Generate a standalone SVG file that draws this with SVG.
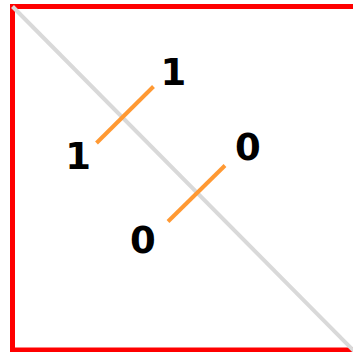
<svg xmlns="http://www.w3.org/2000/svg" width="353" height="352" viewBox="0 0 353 352">
<style>
.lbl{font-family:"DejaVu Sans",sans-serif;font-weight:bold;font-size:37px;fill:#000;text-anchor:middle}
.seg{stroke:#ff9933;stroke-width:4;stroke-linecap:butt;fill:none}
</style>
<rect width="353" height="352" fill="#fff"/>
<g id="frame"><rect x="12.5" y="6.5" width="343" height="343.5" fill="none" stroke="#ff0000" stroke-width="5"/></g>
<g id="connectors">
<line x1="12.5" y1="6.5" x2="354" y2="351" stroke="#d9d9d9" stroke-width="4"/>
<line class="seg" x1="96.5" y1="143" x2="153.5" y2="86.5"/>
<line class="seg" x1="168" y1="221.5" x2="225" y2="165.5"/>
</g>
<g id="label-1a"><text class="lbl" x="173.3" y="84.5">1</text></g>
<g id="label-1b"><text class="lbl" x="78" y="168.5">1</text></g>
<g id="label-0a"><text class="lbl" x="247.8" y="160">0</text></g>
<g id="label-0b"><text class="lbl" x="142.8" y="253">0</text></g>
</svg>
